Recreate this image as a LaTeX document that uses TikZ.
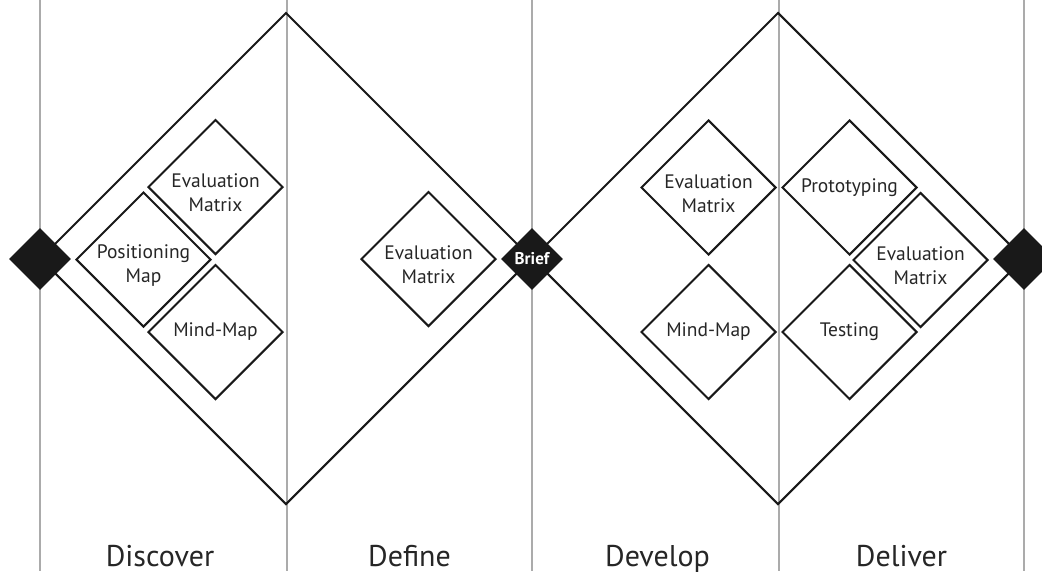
\documentclass[tikz,border=0pt]{standalone}
\usepackage{fontspec}
\setmainfont{PT Sans}
\usetikzlibrary{shapes.geometric}
\begin{document}
\begin{tikzpicture}[x=1pt,y=-1pt,
  lane/.style={draw=black!33, line width=1.7pt},
  bigdia/.style={draw=black!90, diamond, line width=2pt, minimum width=492pt, minimum height=492pt, inner sep=0pt},
  smalldia/.style={draw=black!90, diamond, line width=2pt, minimum width=135pt, minimum height=135pt, inner sep=0pt},
  lbl/.style={align=center, text=black!85, inner sep=0pt, font=\fontsize{19.5}{24}\selectfont},
  gate/.style={fill=black!90, diamond, minimum width=62pt, minimum height=62pt, inner sep=0pt},
  gatetext/.style={text=white, inner sep=0pt, font=\bfseries\fontsize{17}{20}\selectfont},
  phase/.style={text=black!85, anchor=base, inner sep=0pt, font=\fontsize{30}{32}\selectfont}]
\useasboundingbox (0,0) rectangle (1042,571);
\fill[white] (0,0) rectangle (1042,571);
% vertical lanes
\foreach \x/\n in {40/l0,287/l1,532/l2,779/l3,1024/l4} {
  \coordinate (\n top) at (\x,0);
  \coordinate (\n bot) at (\x,571);
  \draw[lane] (\n top) -- (\n bot);
}
% big diamonds
\node[bigdia] (dd1) at (286,258.5) {};
\node[bigdia] (dd2) at (778,258.5) {};
% small diamonds, Discover
\node[smalldia] (s1) at (215.5,187) {};
\node[smalldia] (s2) at (143.5,259.5) {};
\node[smalldia] (s3) at (215.5,332) {};
% Define
\node[smalldia] (s4) at (428.5,259) {};
% Develop
\node[smalldia] (s5) at (708.5,187.5) {};
\node[smalldia] (s6) at (708.5,332) {};
% Deliver
\node[smalldia] (s7) at (849.5,187.5) {};
\node[smalldia] (s8) at (920.5,260) {};
\node[smalldia] (s9) at (849.5,332) {};
% labels
\node[lbl, yshift=-6pt] (t1) at (s1) {Evaluation\\Matrix};
\node[lbl, yshift=-6pt] (t2) at (s2) {Positioning\\Map};
\node[lbl] (t3) at (s3) {Mind-Map};
\node[lbl, yshift=-6pt] (t4) at (s4) {Evaluation\\Matrix};
\node[lbl, yshift=-6pt] (t5) at (s5) {Evaluation\\Matrix};
\node[lbl] (t6) at (s6) {Mind-Map};
\node[lbl] (t7) at (s7) {Prototyping};
\node[lbl, yshift=-6pt] (t8) at (s8) {Evaluation\\Matrix};
\node[lbl] (t9) at (s9) {Testing};
% gates
\node[gate] (g1) at (40,259) {};
\node[gate] (g2) at (532,259) {};
\node[gatetext] (brief) at (g2) {Brief};
\node[gate] (g3) at (1024,259) {};
% phases
\node[phase] (p1) at (160,566) {Discover};
\node[phase] (p2) at (409.5,566) {Define};
\node[phase] (p3) at (657.5,566) {Develop};
\node[phase] (p4) at (901.5,566) {Deliver};
\end{tikzpicture}
\end{document}
